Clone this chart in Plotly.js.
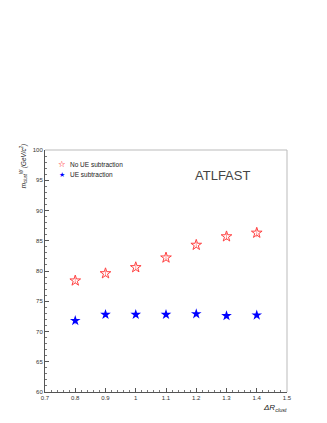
<!DOCTYPE html>
<html>
<head>
<meta charset="utf-8">
<script src="https://cdn.plot.ly/plotly-3.0.1.min.js"></script>
<style>
  body { margin: 0; background: #fff; }
  #graph1 { width: 327px; height: 423px; }
</style>
</head>
<body>
<div id="graph1"></div>
<script>
// cone size values on the x axis
var dR = [0.8, 0.9, 1.0, 1.1, 1.2, 1.3, 1.4];

// W mass without underlying event subtraction
var mNoUE = [78.4, 79.6, 80.6, 82.2, 84.3, 85.7, 86.3];
var errNoUE = [0.5, 0.5, 0.5, 0.5, 0.5, 0.6, 0.7];

// W mass with underlying event subtraction
var mUE = [71.8, 72.8, 72.8, 72.8, 72.9, 72.6, 72.7];
var errUE = [0.6, 0.4, 0.4, 0.4, 0.4, 0.4, 0.4];

var seriesNames = ['No UE subtraction', 'UE subtraction'];

var traces = [
    {
        x: dR, y: mNoUE, name: seriesNames[0], mode: 'markers', type: 'scatter',
        marker: { symbol: 'star-open', size: 8, color: '#ff4040', line: { width: 1 } },
        error_y: { type: 'data', array: errNoUE, color: '#ffa0a0', thickness: 1, width: 0 },
    },
    {
        x: dR, y: mUE, name: seriesNames[1], mode: 'markers', type: 'scatter',
        marker: { symbol: 'star', size: 8, color: '#0000ff' },
        error_y: { type: 'data', array: errUE, color: '#9090ff', thickness: 1, width: 0 },
    },
];

var font = 'Liberation Sans, Arial, sans-serif';
var axisFont = { family: font, size: 6, color: '#333' };

// hand made legend so it sits tight like the original
function legendRow(symbol, color, size, label, y) {
    return [
        { text: symbol, xref: 'paper', yref: 'paper', x: 0.07, y: y, xanchor: 'center', yanchor: 'middle',
          showarrow: false, font: { family: 'DejaVu Sans', size: size, color: color } },
        { text: label, xref: 'paper', yref: 'paper', x: 0.097, y: y, xanchor: 'left', yanchor: 'middle',
          showarrow: false, font: { family: font, size: 6.5, color: '#222' } },
    ];
}

Plotly.newPlot('graph1', traces, {
    width: 327,
    height: 423,
    autosize: false,
    paper_bgcolor: '#fff',
    plot_bgcolor: '#fff',
    showlegend: false,
    margin: { l: 45, r: 40, t: 150, b: 31, pad: 0 },
    xaxis: {
        range: [0.7, 1.5],
        dtick: 0.1,
        tick0: 0.7,
        ticks: 'inside',
        ticklen: 4,
        tickcolor: '#555',
        tickfont: axisFont,
        showgrid: false,
        zeroline: false,
        showline: true,
        linecolor: '#555',
        linewidth: 1,
        minor: { dtick: 0.02, ticks: 'inside', ticklen: 2, tickcolor: '#777' },
    },
    yaxis: {
        range: [60, 100],
        dtick: 5,
        tick0: 60,
        ticks: 'inside',
        ticklen: 4,
        tickcolor: '#555',
        tickfont: axisFont,
        showgrid: false,
        zeroline: false,
        showline: true,
        linecolor: '#555',
        linewidth: 1,
        minor: { dtick: 1, ticks: 'inside', ticklen: 2, tickcolor: '#777' },
    },
    shapes: [
        // light top and right frame
        { type: 'line', xref: 'paper', yref: 'paper', x0: 0, x1: 1, y0: 1, y1: 1, line: { color: '#bbb', width: 1 } },
        { type: 'line', xref: 'paper', yref: 'paper', x0: 1, x1: 1, y0: 0, y1: 1, line: { color: '#bbb', width: 1 } },
    ],
    annotations: [
        {
            text: 'ATLFAST',
            xref: 'paper', yref: 'paper', x: 0.735, y: 0.893,
            xanchor: 'center', yanchor: 'middle',
            showarrow: false,
            font: { family: font, size: 13, color: '#444' },
        },
        {
            text: '<i>m<sub>clust</sub><sup>W</sup> (GeV/c<sup>2</sup>)</i>',
            xref: 'paper', yref: 'paper', x: -0.09, y: 1.033,
            xanchor: 'center', yanchor: 'top',
            textangle: -90,
            showarrow: false,
            font: { family: font, size: 6.3, color: '#222' },
        },
        {
            text: '<i>ΔR<sub>clust</sub></i>',
            xref: 'paper', yref: 'paper', x: 1.008, y: -0.038,
            xanchor: 'right', yanchor: 'top',
            showarrow: false,
            font: { family: font, size: 8, color: '#222' },
        },
    ].concat(legendRow('☆', '#ff0000', 8.5, seriesNames[0], 0.942))
     .concat(legendRow('★', '#0000ff', 7, seriesNames[1], 0.897)),
}, { displayModeBar: false });
</script>
</body>
</html>
